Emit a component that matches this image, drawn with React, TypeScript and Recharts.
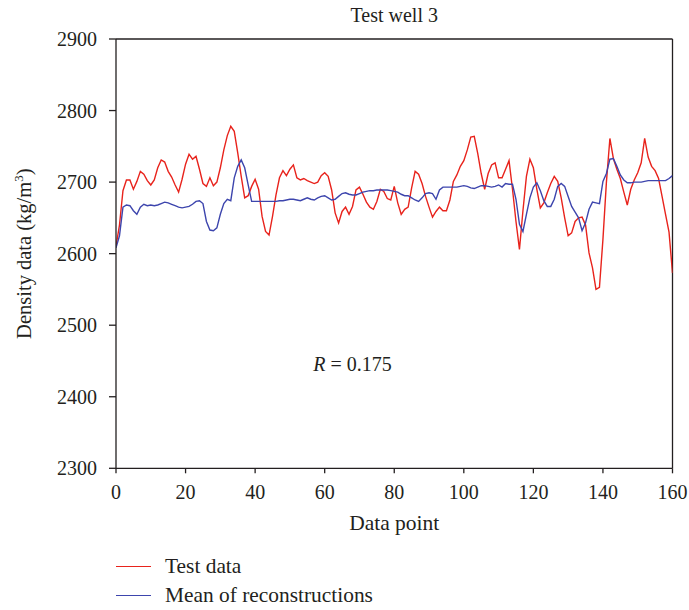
import React from 'react';
import { LineChart, Line, XAxis, YAxis, ReferenceLine, ReferenceDot, Legend } from 'recharts';

const TITLE = 'Test well 3';
const X_LABEL = 'Data point';
const SERIES_TEST = 'Test data';
const SERIES_MEAN = 'Mean of reconstructions';
const X_TICKS = [0, 20, 40, 60, 80, 100, 120, 140, 160];
const Y_TICKS = [2300, 2400, 2500, 2600, 2700, 2800, 2900];
const R_TEXT = '0.175';
const R_POS = { x: 56.7, y: 2436 };

const TEST_DATA = [
  2610, 2640, 2688, 2703, 2703, 2690, 2701, 2715, 2711, 2702,
  2696, 2703, 2720, 2731, 2728, 2715, 2707, 2696, 2686, 2704,
  2725, 2739, 2732, 2736, 2718, 2698, 2694, 2706, 2695, 2700,
  2720, 2745, 2765, 2778, 2771, 2741, 2708, 2678, 2681, 2694,
  2704, 2690, 2652, 2631, 2626, 2652, 2682, 2706, 2716, 2709,
  2718, 2724, 2706, 2703, 2705, 2702, 2700, 2698, 2700, 2709,
  2713, 2708, 2689, 2657, 2643, 2659, 2665, 2655, 2666, 2689,
  2693, 2683, 2672, 2665, 2662, 2673, 2690, 2687, 2677, 2675,
  2694, 2671, 2655, 2662, 2665, 2692, 2715, 2711, 2698, 2680,
  2665, 2651, 2659, 2665, 2660, 2660, 2675, 2701, 2710, 2722,
  2730, 2745, 2763, 2764, 2740, 2712, 2690, 2712, 2724, 2727,
  2706, 2706, 2718, 2730, 2690, 2645, 2606, 2660, 2708, 2732,
  2720, 2690, 2664, 2671, 2685, 2698, 2708, 2701, 2678, 2650,
  2625, 2629, 2645, 2650, 2651, 2640, 2601, 2580, 2550, 2553,
  2620, 2700, 2761, 2733, 2718, 2705, 2686, 2668, 2690, 2703,
  2713, 2727, 2761, 2735, 2722, 2716, 2705, 2680, 2655, 2630,
  2573,
];

const MEAN_DATA = [
  2608, 2625, 2665, 2668, 2667, 2660, 2655, 2665, 2669, 2667,
  2668, 2667, 2668, 2670, 2672, 2671, 2669, 2667, 2665, 2664,
  2665, 2666, 2669, 2673, 2674, 2670, 2645, 2633, 2632, 2636,
  2655, 2670, 2676, 2674, 2706, 2722, 2731, 2720, 2696, 2673,
  2673, 2673, 2673, 2673, 2673, 2673, 2673, 2674, 2674, 2675,
  2676, 2676, 2675, 2674, 2676, 2678, 2676, 2675, 2678, 2680,
  2681, 2678, 2675, 2676, 2680, 2684, 2685, 2683, 2682, 2682,
  2684, 2686, 2687, 2688, 2688, 2689, 2689, 2689, 2689, 2688,
  2687, 2686, 2683, 2681, 2681, 2678, 2675, 2673, 2678, 2684,
  2685, 2684, 2676, 2689, 2693, 2693, 2693, 2693, 2693, 2694,
  2695, 2694, 2692, 2691, 2693, 2695, 2695, 2694, 2693, 2694,
  2696, 2693, 2698, 2697, 2697, 2676, 2641, 2631, 2655, 2678,
  2693, 2699, 2688, 2674, 2666, 2666, 2676, 2694, 2698, 2694,
  2680, 2666, 2658, 2650, 2632, 2643, 2662, 2672, 2671, 2670,
  2701, 2712, 2732, 2733, 2722, 2710, 2703, 2699, 2699, 2700,
  2700, 2700, 2701, 2702, 2702, 2702, 2702, 2702, 2702, 2705,
  2709,
];

const chartData = TEST_DATA.map((v, i) => ({ point: i, test: v, mean: MEAN_DATA[i] }));

const INK = '#231f20';
const RED = '#e8231c';
const BLUE = '#3d45ad';
const FONT = '"Liberation Serif", "Times New Roman", serif';

const SERIES_ORDER = [SERIES_TEST, SERIES_MEAN];
const SERIES_COLOR: Record<string, string> = { [SERIES_TEST]: RED, [SERIES_MEAN]: BLUE };

const YLabel = (props: any) => {
  const vb = props.viewBox || { x: 0, y: 0, width: 0, height: 0 };
  const cx = 31.5;
  const cy = vb.y + vb.height / 2;
  return (
    <text x={cx} y={cy} transform={`rotate(-90, ${cx}, ${cy})`} textAnchor="middle" fill={INK} fontSize={20.5} fontFamily={FONT}>
      Density data (kg/m
      <tspan dy={-8} fontSize={13}>3</tspan>
      <tspan dy={8}>)</tspan>
    </text>
  );
};

const XLabel = (props: any) => {
  const vb = props.viewBox || { x: 0, y: 0, width: 0, height: 0 };
  return (
    <text x={vb.x + vb.width / 2} y={vb.y + 62} textAnchor="middle" fill={INK} fontSize={21.5} fontFamily={FONT}>
      {X_LABEL}
    </text>
  );
};

const TitleLabel = (props: any) => {
  const vb = props.viewBox || { x: 0, y: 0, width: 0, height: 0 };
  return (
    <text x={vb.x + vb.width / 2} y={vb.y - 17} textAnchor="middle" fill={INK} fontSize={20} fontFamily={FONT}>
      {TITLE}
    </text>
  );
};

const RLabel = (props: any) => {
  const vb = props.viewBox || { x: 0, y: 0 };
  return (
    <text x={vb.x} y={vb.y} textAnchor="start" fill={INK} fontSize={20} fontFamily={FONT}>
      <tspan fontStyle="italic">R</tspan> = {R_TEXT}
    </text>
  );
};

const LegendContent = (props: any) => {
  const payload = [...(props.payload || [])].sort(
    (a: any, b: any) => SERIES_ORDER.indexOf(a.value) - SERIES_ORDER.indexOf(b.value)
  );
  return (
    <svg width={380} height={72} style={{ display: 'block', overflow: 'visible' }}>
      {payload.map((entry: any, i: number) => (
        <g key={i}>
          <line x1={8} x2={43} y1={16.5 + i * 29} y2={16.5 + i * 29} stroke={SERIES_COLOR[entry.value]} strokeWidth={1.2} />
          <text x={57} y={23 + i * 29} fill={INK} fontSize={21.4} fontFamily={FONT}>
            {entry.value}
          </text>
        </g>
      ))}
    </svg>
  );
};

export default function App() {
  return (
    <div style={{ position: 'absolute', left: 0, top: 0, width: 689, height: 610, background: '#fff', fontFamily: FONT }}>
      <LineChart
        width={689}
        height={610}
        data={chartData}
        margin={{ top: 39, right: 16.5, left: 0, bottom: 71.7 }}
      >
        <XAxis
          dataKey="point"
          type="number"
          domain={[0, 160]}
          ticks={X_TICKS}
          allowDataOverflow
          height={70}
          stroke={INK}
          strokeWidth={1.3}
          tickSize={5}
          tickMargin={11}
          tick={{ fill: INK, fontSize: 20, fontFamily: FONT }}
          tickLine={{ stroke: INK, strokeWidth: 1.3 }}
          label={<XLabel />}
        />
        <YAxis
          type="number"
          domain={[2300, 2900]}
          ticks={Y_TICKS}
          allowDataOverflow
          width={116}
          stroke={INK}
          strokeWidth={1.3}
          tickSize={7}
          tickMargin={12}
          tick={{ fill: INK, fontSize: 20, fontFamily: FONT }}
          tickLine={{ stroke: INK, strokeWidth: 1.3 }}
          label={<YLabel />}
        />
        <ReferenceLine y={2900} stroke={INK} strokeWidth={1.3} label={<TitleLabel />} />
        <ReferenceLine x={160} stroke={INK} strokeWidth={1.3} />
        <ReferenceDot x={R_POS.x} y={R_POS.y} r={0} fill="none" stroke="none" label={<RLabel />} />
        <Line
          type="linear"
          dataKey="test"
          name={SERIES_TEST}
          stroke={RED}
          strokeWidth={1.4}
          dot={false}
          isAnimationActive={false}
        />
        <Line
          type="linear"
          dataKey="mean"
          name={SERIES_MEAN}
          stroke={BLUE}
          strokeWidth={1.4}
          dot={false}
          isAnimationActive={false}
        />
        <Legend
          layout="horizontal"
          verticalAlign="middle"
          align="center"
          content={<LegendContent />}
          wrapperStyle={{ left: 108, top: 550, width: 380, height: 72 }}
        />
      </LineChart>
    </div>
  );
}
